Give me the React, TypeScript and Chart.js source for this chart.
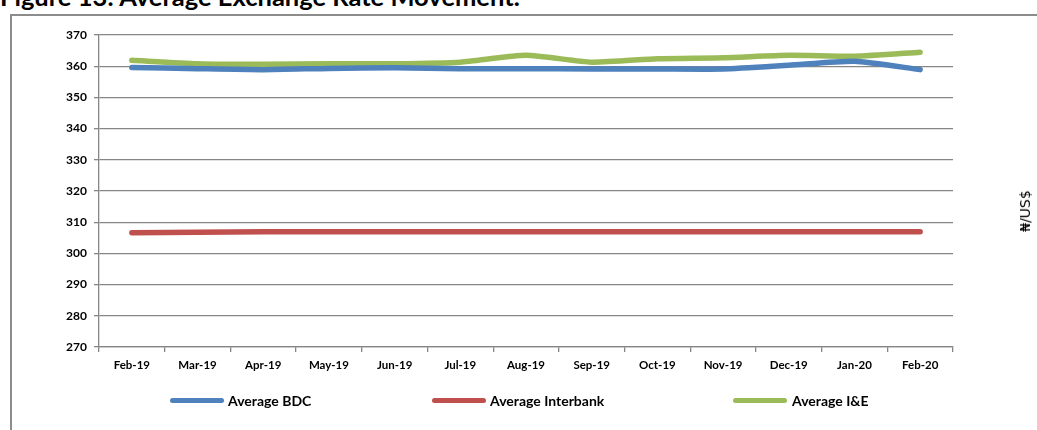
import React, { useEffect, useRef } from "react";
import { Chart, registerables } from "chart.js";

Chart.register(...registerables);

const categories = ["Feb-19", "Mar-19", "Apr-19", "May-19", "Jun-19", "Jul-19", "Aug-19", "Sep-19", "Oct-19", "Nov-19", "Dec-19", "Jan-20", "Feb-20"];
const averageBDC = [359.6, 359.2, 358.9, 359.3, 359.5, 359.2, 359.2, 359.1, 359.1, 359.1, 360.3, 361.6, 358.9];
const averageInterbank = [306.6, 306.8, 306.9, 306.9, 306.9, 306.9, 306.9, 306.9, 306.9, 306.9, 306.9, 306.9, 306.9];
const averageIE = [361.9, 360.8, 360.6, 360.8, 360.8, 361.3, 363.5, 361.3, 362.4, 362.7, 363.5, 363.2, 364.5];
const seriesNames = ["Average BDC", "Average Interbank", "Average I&E"];
const yMin = 270;
const yMax = 370;
const yStep = 10;
const titleText = "Figure 13: Average Exchange Rate Movement.";
const axisTitle = "₦/US$";

const COLORS = ["#4F81BD", "#C0504D", "#9BBB59"];
const GRID = "#868686";
const FONT = "Lato, 'DejaVu Sans', sans-serif";

export default function App() {
  const canvasRef = useRef<HTMLCanvasElement | null>(null);

  useEffect(() => {
    document.body.style.margin = "0";
    const canvas = canvasRef.current;
    if (!canvas) return;
    const values = [averageBDC, averageInterbank, averageIE];
    const chart = new Chart(canvas, {
      type: "line",
      data: {
        labels: categories,
        datasets: values.map((v, i) => ({
          label: seriesNames[i],
          data: v,
          borderColor: COLORS[i],
          backgroundColor: COLORS[i],
          borderWidth: 5.5,
          pointRadius: 0,
          pointHoverRadius: 0,
          tension: 0.2,
          borderCapStyle: "round" as const,
          borderJoinStyle: "round" as const,
          fill: false,
        })),
      },
      options: {
        responsive: false,
        animation: false,
        devicePixelRatio: 1,
        layout: { padding: { top: 35, left: 0, right: 84, bottom: 0 } },
        plugins: {
          legend: { display: false },
          tooltip: { enabled: false },
          title: { display: false },
        },
        scales: {
          x: {
            offset: true,
            grid: {
              offset: true,
              drawOnChartArea: false,
              drawTicks: true,
              tickLength: 5,
              color: GRID,
              lineWidth: 1.3,
            },
            border: { color: GRID, width: 1.3 },
            ticks: {
              color: "#000",
              font: { family: FONT, size: 11.5, weight: "bold" },
              padding: 6,
              maxRotation: 0,
              autoSkip: false,
            },
            afterFit: (scale: any) => {
              scale.height = 83;
            },
          },
          y: {
            min: yMin,
            max: yMax,
            grid: {
              color: GRID,
              lineWidth: 1.3,
              tickLength: 5,
            },
            border: { color: GRID, width: 1.3 },
            ticks: {
              stepSize: yStep,
              color: "#000",
              font: { family: FONT, size: 12, weight: "bold" },
              padding: 7,
            },
            afterFit: (scale: any) => {
              scale.width = 99;
            },
          },
        },
      },
    });
    return () => chart.destroy();
  }, []);

  const legendItems = [
    { line: 170, text: 228 },
    { line: 432, text: 490 },
    { line: 733, text: 792 },
  ];

  return (
    <div
      style={{
        position: "fixed",
        left: 0,
        top: 0,
        width: 1037,
        height: 430,
        overflow: "hidden",
        background: "#fff",
      }}
    >
      <div
        style={{
          position: "absolute",
          left: 0,
          top: -14,
          fontFamily: FONT,
          fontWeight: 700,
          fontSize: 25.5,
          lineHeight: "20px",
          whiteSpace: "nowrap",
          color: "#000",
        }}
      >
        {titleText}
      </div>
      <div
        style={{
          position: "absolute",
          left: 10,
          top: 14,
          width: 1200,
          height: 600,
          borderLeft: "2px solid #8c8c8c",
          borderTop: "2px solid #8c8c8c",
        }}
      />
      <canvas
        ref={canvasRef}
        width={1037}
        height={430}
        style={{ position: "absolute", left: 0, top: 0, width: 1037, height: 430 }}
      />
      {legendItems.map((it, i) => (
        <React.Fragment key={i}>
          <div
            style={{
              position: "absolute",
              left: it.line,
              top: 398,
              width: 54,
              height: 5,
              borderRadius: 3,
              background: COLORS[i],
            }}
          />
          <div
            style={{
              position: "absolute",
              left: it.text,
              top: 391,
              fontFamily: FONT,
              fontWeight: 700,
              fontSize: 14,
              lineHeight: "19px",
              whiteSpace: "nowrap",
              color: "#000",
            }}
          >
            {seriesNames[i]}
          </div>
        </React.Fragment>
      ))}
      <div
        style={{
          position: "absolute",
          left: 1025,
          top: 211,
          transform: "translate(-50%, -50%) rotate(-90deg)",
          fontFamily: "'DejaVu Sans', sans-serif",
          fontSize: 14,
          whiteSpace: "nowrap",
          color: "#000",
        }}
      >
        {axisTitle}
      </div>
    </div>
  );
}
